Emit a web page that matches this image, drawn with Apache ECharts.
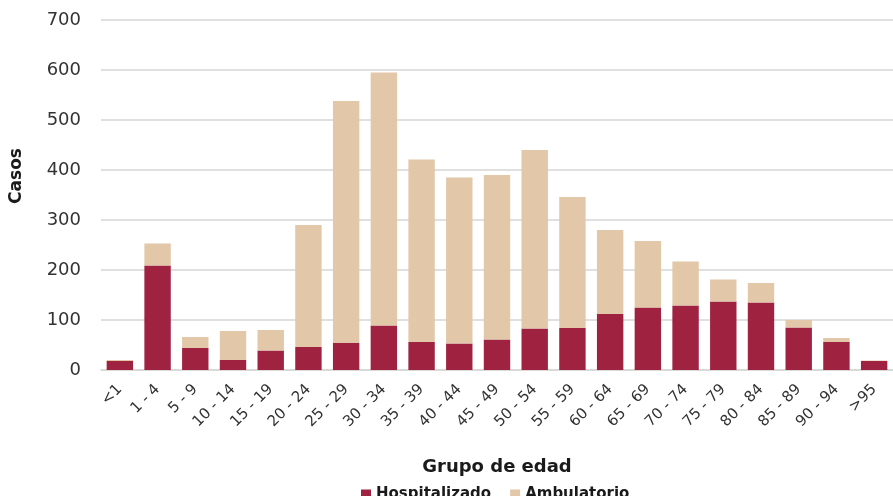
<!DOCTYPE html>
<html>
<head>
<meta charset="utf-8">
<script src="https://cdn.jsdelivr.net/npm/echarts@6/dist/echarts.min.js"></script>
<style>
  html, body { margin: 0; padding: 0; background: #fff; }
  #chart { width: 893px; height: 496px; }
</style>
</head>
<body>
<div id="chart"></div>
<script>
// Age groups along the x axis
const categories = ['<1', '1 - 4', '5 - 9', '10 - 14', '15 - 19', '20 - 24', '25 - 29',
  '30 - 34', '35 - 39', '40 - 44', '45 - 49', '50 - 54', '55 - 59', '60 - 64',
  '65 - 69', '70 - 74', '75 - 79', '80 - 84', '85 - 89', '90 - 94', '>95'];

// Hospitalised cases per age group
const hospitalizado = [18, 209, 44, 20, 39, 46, 54, 89, 56, 53, 61, 83, 84, 112,
  125, 129, 137, 135, 85, 56, 18];

// Outpatient cases per age group (stacked above)
const ambulatorio = [2, 44, 22, 58, 41, 244, 484, 506, 365, 332, 329, 357, 262, 168,
  133, 88, 44, 39, 15, 8, 1];

// Value axis ticks
const yMin = 0, yMax = 700, yStep = 100;

const FONT = 'DejaVu Sans';
const chart = echarts.init(document.getElementById('chart'));

chart.setOption({
  animation: false,
  textStyle: { fontFamily: FONT },
  grid: { left: 100, right: 0, top: 20, bottom: 126, containLabel: false },
  legend: {
    top: 482,
    left: 356,
    itemWidth: 10,
    itemHeight: 10,
    itemGap: 19,
    icon: 'rect',
    textStyle: { fontFamily: FONT, fontSize: 15, fontWeight: 'bold', color: '#1a1a1a' },
    data: ['Hospitalizado', 'Ambulatorio']
  },
  xAxis: {
    type: 'category',
    data: categories,
    name: 'Grupo de edad',
    nameLocation: 'middle',
    nameGap: 88,
    nameTextStyle: { fontFamily: FONT, fontSize: 18, fontWeight: 'bold', color: '#1a1a1a' },
    axisLine: { show: true, lineStyle: { color: '#d6d6d6', width: 1.5 } },
    axisTick: { show: false },
    axisLabel: {
      rotate: 45,
      interval: 0,
      margin: 17,
      fontFamily: FONT,
      fontSize: 15,
      color: '#333'
    }
  },
  yAxis: {
    type: 'value',
    min: yMin,
    max: yMax,
    interval: yStep,
    name: 'Casos',
    nameLocation: 'middle',
    nameGap: 76,
    nameTextStyle: {
      fontFamily: FONT, fontSize: 17, fontWeight: 'bold', color: '#1a1a1a',
      padding: [0, 0, 0, 38]
    },
    axisLine: { show: false },
    axisTick: { show: false },
    axisLabel: { margin: 20, fontFamily: FONT, fontSize: 18, color: '#333' },
    splitLine: { lineStyle: { color: '#d6d6d6', width: 1.5 } }
  },
  series: [
    {
      name: 'Hospitalizado',
      type: 'bar',
      stack: 'casos',
      barWidth: '70%',
      itemStyle: { color: '#9F2241' },
      data: hospitalizado
    },
    {
      name: 'Ambulatorio',
      type: 'bar',
      stack: 'casos',
      barWidth: '70%',
      itemStyle: { color: '#E2C7A8' },
      data: ambulatorio
    }
  ]
});
</script>
</body>
</html>
